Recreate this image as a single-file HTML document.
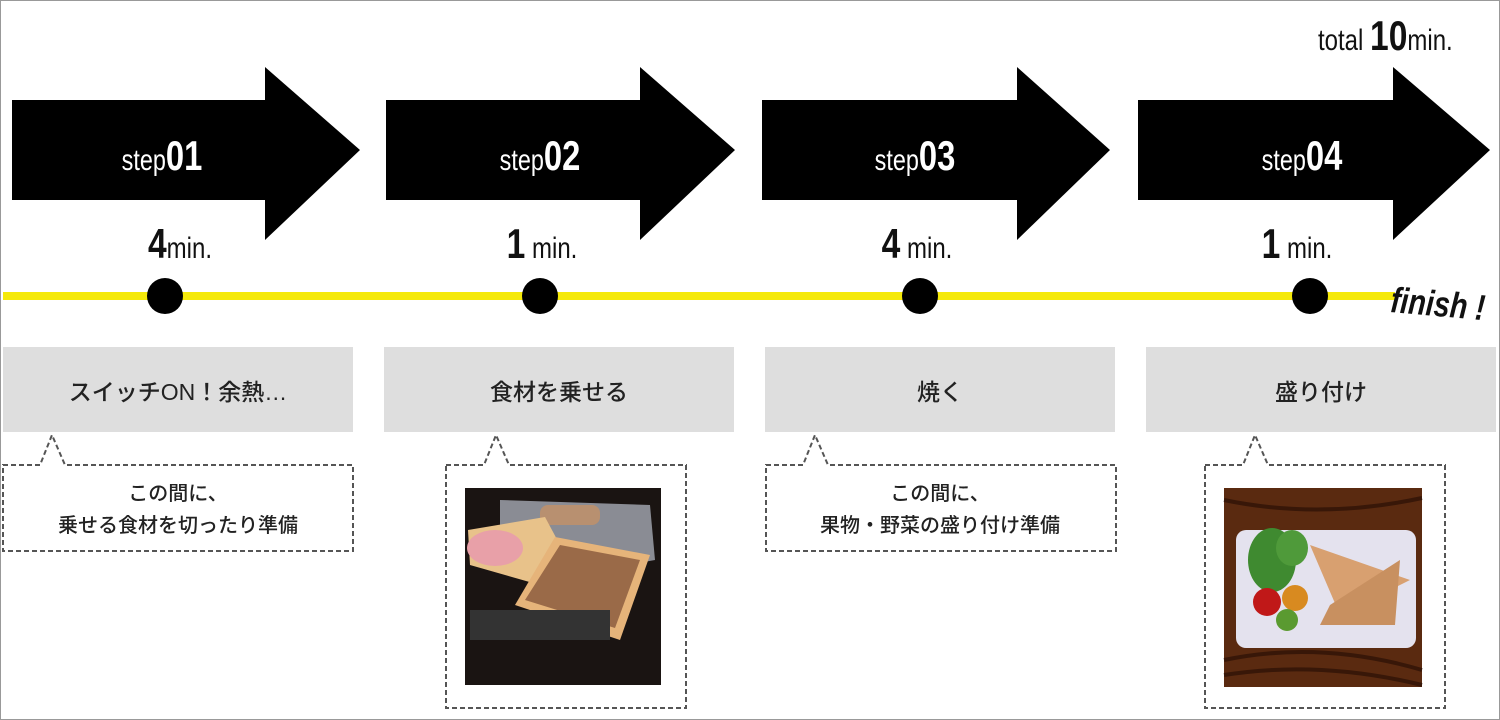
<!DOCTYPE html>
<html><head><meta charset="utf-8"><style>
html,body{margin:0;padding:0;background:#fff;}
svg{display:block}
.st{font-family:"Liberation Sans",sans-serif;fill:#fff;}
.mn{font-family:"Liberation Sans",sans-serif;fill:#111;}
.jp{font-family:"Liberation Sans","Noto Sans CJK JP",sans-serif;fill:#222;font-weight:500;}
</style></head><body>
<svg width="1500" height="720" viewBox="0 0 1500 720" xmlns="http://www.w3.org/2000/svg">
<rect x="0.5" y="0.5" width="1499" height="719" fill="#fff" stroke="#999"/>
<g transform="translate(1318,50) scale(0.8,1)">
<text class="mn" x="0" y="0" font-size="30">total <tspan font-size="42" font-weight="bold">10</tspan><tspan font-size="30">min.</tspan></text>
</g>
<g fill="#000">
<polygon points="12,100 265,100 265,67 360,150 265,240 265,200 12,200"/>
<polygon points="386,100 640,100 640,67 735,150 640,240 640,200 386,200"/>
<polygon points="762,100 1017,100 1017,67 1110,150 1017,240 1017,200 762,200"/>
<polygon points="1138,100 1393,100 1393,67 1490,150 1393,240 1393,200 1138,200"/>
</g>
<g font-size="30">
<text class="st" transform="translate(162,170) scale(0.78,1)" text-anchor="middle">step<tspan font-size="42" font-weight="bold">01</tspan></text>
<text class="st" transform="translate(540,170) scale(0.78,1)" text-anchor="middle">step<tspan font-size="42" font-weight="bold">02</tspan></text>
<text class="st" transform="translate(915,170) scale(0.78,1)" text-anchor="middle">step<tspan font-size="42" font-weight="bold">03</tspan></text>
<text class="st" transform="translate(1302,170) scale(0.78,1)" text-anchor="middle">step<tspan font-size="42" font-weight="bold">04</tspan></text>
</g>
<g font-size="30">
<text class="mn" transform="translate(180,258) scale(0.8,1)" text-anchor="middle"><tspan font-size="42" font-weight="bold">4</tspan>min.</text>
<text class="mn" transform="translate(542,258) scale(0.8,1)" text-anchor="middle"><tspan font-size="42" font-weight="bold">1</tspan> min.</text>
<text class="mn" transform="translate(917,258) scale(0.8,1)" text-anchor="middle"><tspan font-size="42" font-weight="bold">4</tspan> min.</text>
<text class="mn" transform="translate(1297,258) scale(0.8,1)" text-anchor="middle"><tspan font-size="42" font-weight="bold">1</tspan> min.</text>
</g>
<rect x="3" y="292" width="1392" height="8" fill="#f5e90a"/>
<g fill="#000">
<circle cx="165" cy="296" r="18"/><circle cx="540" cy="296" r="18"/>
<circle cx="920" cy="296" r="18"/><circle cx="1310" cy="296" r="18"/>
</g>
<text class="mn" transform="translate(1390,312) rotate(5) scale(0.8,1)" font-size="36" font-weight="bold" font-style="italic">finish !</text>
<g fill="#dedede">
<rect x="3" y="347" width="350" height="85"/>
<rect x="384" y="347" width="350" height="85"/>
<rect x="765" y="347" width="350" height="85"/>
<rect x="1146" y="347" width="350" height="85"/>
</g>
<g font-size="23" text-anchor="middle">
<text class="jp" x="178" y="400">スイッチON！余熱…</text>
<text class="jp" x="559" y="400">食材を乗せる</text>
<text class="jp" x="940" y="400">焼く</text>
<text class="jp" x="1321" y="400">盛り付け</text>
</g>
<g fill="none" stroke="#555" stroke-width="2" stroke-dasharray="5,3">
<path d="M3,465 H40 L52,435 L65,465 H353 V551 H3 Z"/>
<path d="M446,465 H484 L496,435 L509,465 H686 V708 H446 Z"/>
<path d="M766,465 H803 L815,435 L828,465 H1116 V551 H766 Z"/>
<path d="M1205,465 H1243 L1255,435 L1268,465 H1445 V708 H1205 Z"/>
</g>
<g font-size="20" text-anchor="middle">
<text class="jp" x="178" y="500">この間に、</text>
<text class="jp" x="178" y="532">乗せる食材を切ったり準備</text>
<text class="jp" x="940" y="500">この間に、</text>
<text class="jp" x="940" y="532">果物・野菜の盛り付け準備</text>
</g>
<rect x="465" y="488" width="196" height="197" fill="#1a1412"/>
<polygon points="500,500 650,505 655,560 600,570 500,540" fill="#8a8c94"/>
<rect x="540" y="505" width="60" height="20" rx="8" fill="#b89070"/>
<polygon points="468,530 545,517 560,545 540,585 470,565" fill="#e8c28a"/>
<ellipse cx="495" cy="548" rx="28" ry="18" fill="#e8a0a8"/>
<polygon points="555,537 650,555 620,640 515,605" fill="#e6b47a"/>
<polygon points="560,545 640,560 615,628 525,600" fill="#9a6a48"/>
<rect x="470" y="610" width="140" height="30" fill="#333"/>
<rect x="1224" y="488" width="198" height="199" fill="#5a2a10"/>
<g stroke="#2a1005" stroke-width="4" fill="none" opacity="0.7">
<path d="M1224,500 Q1320,520 1422,498"/><path d="M1224,660 Q1320,640 1422,670"/><path d="M1224,675 Q1320,660 1422,685"/>
</g>
<rect x="1236" y="530" width="180" height="118" rx="10" fill="#e4e2ee"/>
<ellipse cx="1272" cy="560" rx="24" ry="32" fill="#3f8a30"/>
<ellipse cx="1292" cy="548" rx="16" ry="18" fill="#4f9a3a"/>
<circle cx="1267" cy="602" r="14" fill="#c01818"/>
<circle cx="1295" cy="598" r="13" fill="#d88a20"/>
<circle cx="1287" cy="620" r="11" fill="#5a9a30"/>
<polygon points="1310,545 1410,580 1340,615" fill="#d8a070"/>
<polygon points="1330,605 1400,560 1395,625 1320,625" fill="#c89060"/>
</svg>
</body></html>
